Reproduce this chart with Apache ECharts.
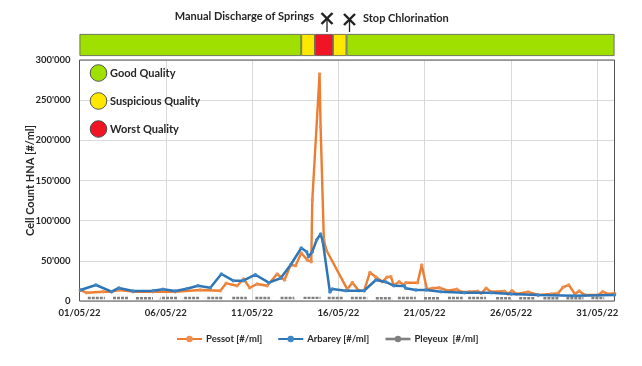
<!DOCTYPE html>
<html>
<head>
<meta charset="utf-8">
<script src="https://cdn.jsdelivr.net/npm/echarts@6/dist/echarts.min.js"></script>
<style>html,body{margin:0;padding:0;background:#fff}#c{width:642px;height:366px}</style>
</head>
<body>
<div id="c"></div>
<script>
const xTickLabels = ['01/05/22','06/05/22','11/05/22','16/05/22','21/05/22','26/05/22','31/05/22'];
const yTickLabels = ['0',"50'000","100'000","150'000","200'000","250'000","300'000"];

const pessotDays = [0.05,0.4,1.37,1.86,2.28,3.1,4.26,5.54,7,8.16,8.5,9.13,9.51,9.86,10.29,10.87,11.45,11.88,12.23,12.52,12.85,13.2,13.43,13.49,13.91,13.97,14.16,14.3,15.52,15.81,16.18,16.49,16.83,17.17,17.55,17.81,18.04,18.21,18.52,18.81,18.91,19.59,19.83,20.13,20.47,20.85,21.34,21.86,22.15,22.59,23.08,23.27,23.56,23.85,24.63,24.83,25.06,25.31,25.99,26.57,27.34,27.73,28.02,28.35,28.7,28.95,29.28,30.06,30.31,30.64,31];
const pessotValues = [13500,10300,11600,11600,13700,11600,11600,11600,13700,12800,22000,19000,27400,16500,21200,19000,33600,26100,44800,44000,59800,51000,49000,125700,282600,217000,76000,63500,14500,23000,12800,12800,35500,29900,24000,29500,30300,19300,24000,20000,22800,22800,44800,14600,15800,16500,12800,14600,11200,11600,12100,9600,15800,11600,12100,8700,12800,8700,11200,7500,8700,9600,17000,20000,8700,12400,7500,7500,11600,8700,9600];

const arbareyDays = [0.06,0.95,1.86,2.28,3.1,4.26,4.84,5.54,6.22,6.86,7.58,8.22,8.91,9.49,10.19,10.97,11.65,12.23,12.85,13.16,13.27,13.49,13.74,13.97,14.1,14.51,14.65,15.42,16.49,17.17,17.75,18.23,18.81,18.91,19.49,20.08,20.95,22.3,23.85,25.02,26.57,28.7,31];
const arbareyValues = [13700,19900,11600,16200,12400,12800,14600,12400,15300,19000,16600,33600,25300,25300,32700,22800,28300,44800,66000,61400,55200,61400,75900,83400,73800,11200,14900,12800,12800,26100,23700,18900,18700,15800,13700,13700,11600,10300,10300,8700,7500,6600,7500];

const pleyeuxDays = [0.48,1.47,1.47,1.94,2.87,2.87,3.27,4.26,4.26,4.55,5.66,5.66,5.83,6.99,6.99,7.17,8.33,8.33,8.85,9.78,9.78,10.19,11.18,11.18,11.65,12.63,12.63,12.98,13.97,13.97,14.38,15.31,15.31,15.72,16.7,16.7,17.17,18.16,18.16,18.45,19.49,19.49,19.96,20.83,20.83,21.35,22.28,22.28,22.52,23.56,23.56,24.14,25.02,25.02,25.48,26.35,26.35,26.88,27.8,27.8,28.21,29.2,29.2,29.66,30.65];
const pleyeuxValues = [3700,3700,null,3700,3700,null,3500,3500,null,3700,3700,null,3700,3700,null,3700,3700,null,3700,3700,null,3700,3700,null,3700,3700,null,3900,3900,null,3700,3700,null,3700,3700,null,3500,3500,null,3700,3700,null,3500,3500,null,3700,3700,null,3700,3700,null,3500,3500,null,3500,3500,null,3500,3500,null,3500,3500,null,3700,3700];
const pleyeuxRingDays = [4.55,5.87,7.23,8.5,9.84,11.18,12.58,15.54,16.82,18.2,19.73,21.06,22.35,23.74,25.13,30.54];
const pleyeuxRingValues = [4800,4500,4500,4500,4500,4500,4500,4500,4500,4500,4500,4500,4500,4500,4500,4500];

const qualityNames = ['Good','Suspicious','Worst','Suspicious','Good'];
const qualityDurations = [12.85,0.79,1.05,0.78,15.53];
const qualityColors = ['#9fe000','#ffe800','#f01424','#ffe800','#9fe000'];

const pair = (d, v) => d.map((x, i) => [x, v[i]]);
const font = 'Lato, "Open Sans", sans-serif';
const ink = '#262626';

function crossing(cx, top, bottom) {
  const a = 5.5;
  const mk = (shape, w) => ({type:'line', z:100, shape, style:{stroke:'#222', lineWidth:w}});
  return [
    mk({x1:cx, y1:top + 5, x2:cx, y2:bottom}, 1.3),
    mk({x1:cx - a, y1:top, x2:cx + a, y2:top + 11}, 2.4),
    mk({x1:cx + a, y1:top, x2:cx - a, y2:top + 11}, 2.4)
  ];
}
const sideLabel = (x, y, text, align) => ({type:'text', z:100, x, y, style:{text, font:'bold 11px ' + font, fill:ink, textAlign:align || 'left', textVerticalAlign:'middle'}});
const dot = (cy, fill) => ({type:'circle', z:100, shape:{cx:98.5, cy, r:8.3}, style:{fill, stroke:'#444', lineWidth:0.9}});

const chart = echarts.init(document.getElementById('c'), null, {renderer:'canvas'});
chart.setOption({
  backgroundColor:'#fff',
  animation:false,
  grid:[
    {left:79.5, right:27.5, top:60, height:241, show:true, borderColor:'#555', borderWidth:1, z:3},
    {left:79.5, right:27.5, top:34, height:22}
  ],
  xAxis:[
    {type:'value', gridIndex:0, min:0, max:31, interval:5,
     axisLine:{show:false}, axisTick:{show:false},
     splitLine:{show:true, lineStyle:{color:'#d9d9d9', width:1}},
     axisLabel:{color:ink, fontFamily:font, fontWeight:'bold', fontSize:9.5, margin:7, showMaxLabel:false,
       formatter:v => xTickLabels[v / 5]}},
    {type:'value', gridIndex:1, min:0, max:31, show:false}
  ],
  yAxis:[
    {type:'value', gridIndex:0, min:0, max:300000, interval:50000,
     name:'Cell Count HNA [#/ml]', nameLocation:'middle', nameGap:44, nameMoveOverlap:false,
     nameTextStyle:{color:ink, fontFamily:font, fontWeight:'bold', fontSize:11},
     axisLine:{show:false}, axisTick:{show:false},
     splitLine:{show:true, lineStyle:{color:'#d9d9d9', width:1}},
     axisLabel:{color:ink, fontFamily:font, fontWeight:'bold', fontSize:9.5, margin:9,
       formatter:v => yTickLabels[v / 50000]}},
    {type:'category', gridIndex:1, data:['Quality'], show:false}
  ],
  legend:{
    left:171, top:329, itemWidth:25, itemHeight:8, itemGap:15,
    textStyle:{color:ink, fontFamily:font, fontWeight:'bold', fontSize:9.5, padding:[0,0,0,-1]},
    data:[
      {name:'Pessot [#/ml]'},
      {name:'Arbarey [#/ml]'},
      {name:'Pleyeux  [#/ml]', lineStyle:{type:'solid', width:2.6, color:'#808080'}}
    ]
  },
  series:[
    ...qualityDurations.map((d, i) => ({
      type:'bar', name:qualityNames[i], xAxisIndex:1, yAxisIndex:1, stack:'q', barWidth:22,
      data:[d], itemStyle:{color:qualityColors[i], borderColor:'#555', borderWidth:0.8}, silent:true
    })),
    {type:'line', name:'Pleyeux  [#/ml]', data:pair(pleyeuxDays, pleyeuxValues), showSymbol:false, symbol:'none',
     connectNulls:false, z:3, lineStyle:{color:'#808080', width:2.4, type:[3,1]}, itemStyle:{color:'#808080'}},
    {type:'scatter', name:'Pleyeux rings', data:pair(pleyeuxRingDays, pleyeuxRingValues), symbol:'emptyCircle', symbolSize:3.5,
     z:3, itemStyle:{color:'#fff', borderColor:'#999', borderWidth:0.7}},
    {type:'line', name:'Pessot [#/ml]', data:pair(pessotDays, pessotValues), symbol:'circle', symbolSize:3.5, z:4,
     lineStyle:{color:'#ed7d31', width:2.4}, itemStyle:{color:'#ed8f4f'}},
    {type:'line', name:'Arbarey [#/ml]', data:pair(arbareyDays, arbareyValues), symbol:'circle', symbolSize:3.5, z:5,
     lineStyle:{color:'#2e75b6', width:2.5}, itemStyle:{color:'#3f86c6'}}
  ],
  graphic:[
    sideLabel(314, 16, 'Manual Discharge of Springs', 'right'),
    sideLabel(363, 18, 'Stop Chlorination'),
    ...crossing(327, 13, 32),
    ...crossing(349.5, 14, 32),
    dot(73, '#9fe000'), sideLabel(110, 73, 'Good Quality'),
    dot(101, '#ffe800'), sideLabel(110, 101, 'Suspicious Quality'),
    dot(129, '#f01424'), sideLabel(110, 129, 'Worst Quality')
  ]
});
</script>
</body>
</html>
